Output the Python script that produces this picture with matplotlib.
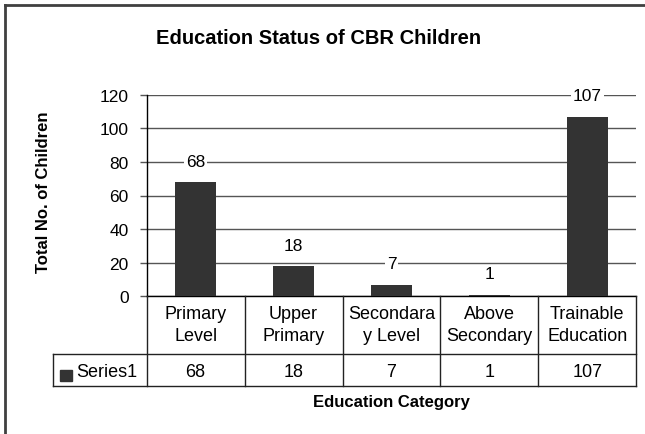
import matplotlib
matplotlib.use("Agg")
import matplotlib.pyplot as plt
from matplotlib.lines import Line2D
from matplotlib.patches import Rectangle

categories = ["Primary\nLevel", "Upper\nPrimary", "Secondara\ny Level", "Above\nSecondary", "Trainable\nEducation"]
values = [68, 18, 7, 1, 107]
series_name = "Series1"
yticks = [0, 20, 40, 60, 80, 100, 120]

plt.rcParams['font.family'] = ['Liberation Sans', 'DejaVu Sans']

W, H = 645, 435
fig = plt.figure(figsize=(W / 100, H / 100), dpi=100)

def fx(px):
    return px / W

def fy(py):
    return 1 - py / H

ax_l, ax_r, ax_t, ax_b = 146.7, 636.3, 95.7, 297.3
ax = fig.add_axes([fx(ax_l), fy(ax_b), fx(ax_r - ax_l), (ax_b - ax_t) / H])
bar_color = "#333333"
x = list(range(len(values)))
ax.bar(x, values, width=0.416, color=bar_color, zorder=3)
ax.set_xlim(-0.5, len(values) - 0.5)
ax.set_ylim(0, 120)
ax.set_yticks(yticks)
ax.set_yticklabels([str(t) for t in yticks], fontsize=12.5)
ax.set_xticks([])
ax.yaxis.grid(True, color="#555555", linewidth=1.0, zorder=0)
ax.set_axisbelow(True)
for s in ["top", "right"]:
    ax.spines[s].set_visible(False)
ax.spines["left"].set_color("black")
ax.spines["left"].set_linewidth(1.0)
ax.spines["bottom"].set_color("black")
ax.spines["bottom"].set_linewidth(1.0)
ax.tick_params(axis="y", direction="out", length=5, width=1, color="#555555", pad=8)

for xi, v in zip(x, values):
    ax.annotate(str(v), (xi, v), xytext=(0, 15), textcoords="offset points",
                ha="center", va="center", fontsize=12.5, zorder=5,
                bbox=dict(boxstyle="square,pad=0.1", fc="white", ec="none"))

# data table
tab_l, tab_t, tab_b = 53.3, 297.3, 387.3
row_mid = 355.3
unit = (ax_r - ax_l) / len(values)
x_left = -0.5 - (ax_l - tab_l) / unit
tax = fig.add_axes([fx(tab_l), fy(tab_b), fx(ax_r - tab_l), (tab_b - tab_t) / H])
tax.set_xlim(x_left, len(values) - 0.5)
tax.set_ylim(tab_b, tab_t)
tax.axis("off")
lc = "#222222"
tax.plot([x_left, len(values) - 0.5], [row_mid, row_mid], color=lc, lw=1, clip_on=False)
tax.plot([x_left, len(values) - 0.5], [tab_b, tab_b], color=lc, lw=1, clip_on=False)
for b in [i - 0.5 for i in range(len(values) + 1)]:
    tax.plot([b, b], [tab_t, tab_b], color=lc, lw=1, clip_on=False)
tax.plot([x_left, x_left], [row_mid, tab_b], color=lc, lw=1, clip_on=False)

for xi, c, v in zip(x, categories, values):
    tax.text(xi, (tab_t + row_mid) / 2 - 1, c, ha="center", va="center",
             fontsize=13, linespacing=1.42)
    tax.text(xi, (row_mid + tab_b) / 2 + 1, str(v), ha="center", va="center", fontsize=13)

# legend key
tax.add_patch(Rectangle((x_left + (60 - tab_l) / unit, 382), 12 / unit, -11.5,
                        color=bar_color, clip_on=False))
tax.text(x_left + (76.5 - tab_l) / unit, 373, series_name, ha="left", va="center", fontsize=13)

fig.text(fx(318.5), fy(38), "Education Status of CBR Children", ha="center", va="center",
         fontsize=14.5, fontweight="bold")
fig.text(fx(44), fy(192), "Total No. of Children", ha="center", va="center",
         rotation=90, fontsize=12, fontweight="bold")
fig.text(fx(391), fy(403), "Education Category", ha="center", va="center",
         fontsize=12, fontweight="bold")

# outer border
bc = "#404040"
fig.add_artist(Line2D([fx(4.5), fx(4.5)], [0, fy(6.3)], transform=fig.transFigure,
                      color=bc, lw=2))
fig.add_artist(Line2D([fx(4.5), 1], [fy(6.3), fy(6.3)], transform=fig.transFigure,
                      color=bc, lw=2))

fig.savefig("out.png", dpi=100)
